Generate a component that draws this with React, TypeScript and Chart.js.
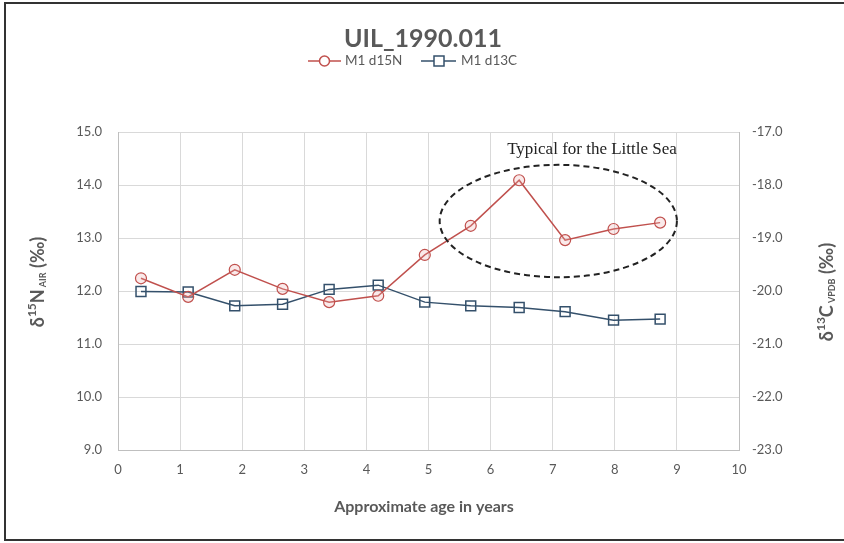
import React, { useEffect, useRef } from 'react';
import { Chart, registerables } from 'chart.js';

Chart.register(...registerables);

// ---- data ----
const ages = [0.37, 1.13, 1.88, 2.65, 3.4, 4.19, 4.94, 5.68, 6.46, 7.2, 7.98, 8.73];
const d15N = [12.24, 11.89, 12.4, 12.04, 11.79, 11.91, 12.68, 13.23, 14.09, 12.96, 13.17, 13.29];
const d13C = [-20.01, -20.02, -20.28, -20.25, -19.97, -19.89, -20.21, -20.28, -20.31, -20.39, -20.55, -20.53];
const xRange = [0, 10];
const leftRange = [9, 15];
const rightRange = [-23, -17];
const seriesNames = ['M1 d15N', 'M1 d13C'];
const chartTitle = 'UIL_1990.011';
const xTitle = 'Approximate age in years';
const noteText = 'Typical for the Little Sea';
// ellipse annotation in data units (x axis / left axis)
const ellipseCenter = [7.09, 13.32];
const ellipseRadii = [1.91, 1.06];

const FONT = 'Lato, "Noto Sans", sans-serif';
const GREY = '#595959';
const RED = '#C0504D';
const BLUE = '#34506B';

type Part = { t: string; size: number; dy: number; bold?: boolean };

function drawRich(ctx: CanvasRenderingContext2D, parts: Part[], cx: number, cy: number, rot: number) {
  ctx.save();
  ctx.translate(cx, cy);
  ctx.rotate(rot);
  let total = 0;
  const widths = parts.map((p) => {
    ctx.font = `${p.bold === false ? '' : 'bold '}${p.size}px ${FONT}`;
    const w = ctx.measureText(p.t).width;
    total += w;
    return w;
  });
  let x = -total / 2;
  ctx.fillStyle = GREY;
  ctx.textBaseline = 'middle';
  ctx.textAlign = 'left';
  parts.forEach((p, i) => {
    ctx.font = `${p.bold === false ? '' : 'bold '}${p.size}px ${FONT}`;
    ctx.fillText(p.t, x, p.dy);
    x += widths[i];
  });
  ctx.restore();
}

const decor = {
  id: 'decor',
  beforeDraw(chart: any) {
    const ctx: CanvasRenderingContext2D = chart.ctx;
    ctx.save();
    ctx.fillStyle = '#ffffff';
    ctx.fillRect(0, 0, chart.width, chart.height);
    ctx.restore();
  },
  afterDraw(chart: any) {
    const ctx: CanvasRenderingContext2D = chart.ctx;
    const xs = chart.scales.x;
    const ys = chart.scales.y;
    ctx.save();
    // frame
    ctx.strokeStyle = '#333333';
    ctx.lineWidth = 2;
    ctx.strokeRect(5, 3, 900, 537);

    // title
    ctx.fillStyle = GREY;
    ctx.font = `bold 25px ${FONT}`;
    ctx.textAlign = 'center';
    ctx.textBaseline = 'middle';
    ctx.fillText(chartTitle, 423, 39);

    // legend
    const ly = 61;
    ctx.font = `13.5px ${FONT}`;
    ctx.textAlign = 'left';
    // red
    ctx.strokeStyle = RED;
    ctx.lineWidth = 1.5;
    ctx.beginPath();
    ctx.moveTo(308, ly);
    ctx.lineTo(341, ly);
    ctx.stroke();
    ctx.beginPath();
    ctx.arc(324.5, ly, 5, 0, Math.PI * 2);
    ctx.fillStyle = '#ffffff';
    ctx.fill();
    ctx.stroke();
    ctx.fillStyle = GREY;
    ctx.fillText(seriesNames[0], 345, ly);
    // blue
    ctx.strokeStyle = BLUE;
    ctx.beginPath();
    ctx.moveTo(421, ly);
    ctx.lineTo(456, ly);
    ctx.stroke();
    ctx.fillStyle = '#ffffff';
    ctx.fillRect(434, ly - 5, 10, 10);
    ctx.strokeRect(434, ly - 5, 10, 10);
    ctx.fillStyle = GREY;
    ctx.fillText(seriesNames[1], 461, ly);

    // x title
    ctx.font = `bold 16px ${FONT}`;
    ctx.textAlign = 'center';
    ctx.fillText(xTitle, 424, 507);

    // left y title: δ15N AIR (‰)
    drawRich(
      ctx,
      [
        { t: 'δ', size: 18, dy: 0 },
        { t: '15', size: 12, dy: -6 },
        { t: 'N', size: 18, dy: 0 },
        { t: ' AIR', size: 9, dy: 5 },
        { t: ' (‰)', size: 18, dy: 0 },
      ],
      38,
      282,
      -Math.PI / 2
    );
    // right y title: δ13C VPDB (‰)
    drawRich(
      ctx,
      [
        { t: 'δ', size: 18, dy: 0 },
        { t: '13', size: 12, dy: -6 },
        { t: 'C', size: 18, dy: 0 },
        { t: ' VPDB', size: 9, dy: 5 },
        { t: ' (‰)', size: 18, dy: 0 },
      ],
      827,
      292,
      -Math.PI / 2
    );

    // dashed ellipse annotation
    const cx = xs.getPixelForValue(ellipseCenter[0]);
    const cy = ys.getPixelForValue(ellipseCenter[1]);
    const rx = Math.abs(xs.getPixelForValue(ellipseCenter[0] + ellipseRadii[0]) - cx);
    const ry = Math.abs(ys.getPixelForValue(ellipseCenter[1] + ellipseRadii[1]) - cy);
    ctx.strokeStyle = '#222222';
    ctx.lineWidth = 2;
    ctx.setLineDash([6, 4]);
    ctx.beginPath();
    ctx.ellipse(cx, cy, rx, ry, 0, 0, Math.PI * 2);
    ctx.stroke();
    ctx.setLineDash([]);

    // note text
    ctx.fillStyle = '#222222';
    ctx.font = `17px "Liberation Serif", "Times New Roman", serif`;
    ctx.textAlign = 'center';
    ctx.textBaseline = 'middle';
    ctx.fillText(noteText, 592, 150);
    ctx.restore();
  },
};

export default function App() {
  const ref = useRef<HTMLCanvasElement | null>(null);
  useEffect(() => {
    if (!ref.current) return;
    const tickFont = { family: FONT, size: 13 };
    const chart = new Chart(ref.current, {
      type: 'line',
      data: {
        datasets: [
          {
            label: seriesNames[0],
            data: ages.map((a, i) => ({ x: a, y: d15N[i] })),
            yAxisID: 'y',
            borderColor: RED,
            borderWidth: 1.5,
            pointStyle: 'circle',
            pointRadius: 5.5,
            pointBorderWidth: 1.2,
            pointBackgroundColor: 'rgba(235,170,170,0.25)',
            pointBorderColor: RED,
            tension: 0,
          },
          {
            label: seriesNames[1],
            data: ages.map((a, i) => ({ x: a, y: d13C[i] })),
            yAxisID: 'y2',
            borderColor: BLUE,
            borderWidth: 1.5,
            pointStyle: 'rect',
            pointRadius: 7,
            pointBorderWidth: 1.5,
            pointBackgroundColor: 'rgba(255,255,255,0)',
            pointBorderColor: BLUE,
            tension: 0,
          },
        ],
      },
      options: {
        responsive: false,
        animation: false,
        layout: { padding: { top: 132, left: 0, right: 0, bottom: 0 } },
        plugins: { legend: { display: false }, title: { display: false }, tooltip: { enabled: false } },
        scales: {
          x: {
            type: 'linear',
            min: xRange[0],
            max: xRange[1],
            ticks: { stepSize: 1, color: GREY, font: tickFont, padding: 12 },
            grid: { color: '#D9D9D9', drawTicks: false },
            border: { color: '#BFBFBF' },
            afterFit: (s: any) => {
              s.height = 93;
            },
          },
          y: {
            position: 'left',
            min: leftRange[0],
            max: leftRange[1],
            ticks: { stepSize: 1, color: GREY, font: tickFont, padding: 16, callback: (v: any) => Number(v).toFixed(1) },
            grid: { color: '#D9D9D9', drawTicks: false },
            border: { color: '#BFBFBF' },
            afterFit: (s: any) => {
              s.width = 118;
            },
          },
          y2: {
            position: 'right',
            min: rightRange[0],
            max: rightRange[1],
            ticks: { stepSize: 1, color: GREY, font: tickFont, padding: 13, callback: (v: any) => Number(v).toFixed(1) },
            grid: { drawOnChartArea: false, drawTicks: false },
            border: { color: '#BFBFBF' },
            afterFit: (s: any) => {
              s.width = 105;
            },
          },
        },
      },
      plugins: [decor],
    } as any);
    return () => chart.destroy();
  }, []);
  return (
    <div style={{ position: 'fixed', left: 0, top: 0, width: 844, height: 543, background: '#fff' }}>
      <canvas ref={ref} width={844} height={543} style={{ width: 844, height: 543, display: 'block' }} />
    </div>
  );
}
